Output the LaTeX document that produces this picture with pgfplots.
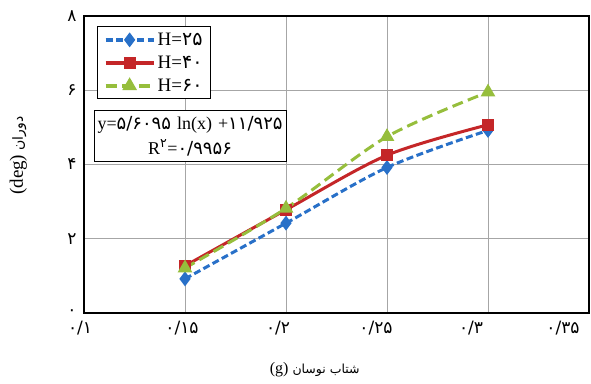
\documentclass[border=0pt]{standalone}
\usepackage{fontspec}
\setmainfont{Liberation Serif}
\newfontfamily\fa[Script=Arabic]{DejaVu Sans}
\TeXXeTstate=1
\usepackage{pgfplots}
\pgfplotsset{compat=1.18}
\definecolor{cblue}{RGB}{40,112,200}
\definecolor{cred}{RGB}{196,38,40}
\definecolor{cgreen}{RGB}{150,190,60}
\begin{document}
\begin{tikzpicture}
\useasboundingbox (-84pt,-70pt) rectangle (507pt,313pt);
\begin{axis}[
  scale only axis,
  width=505pt, height=297pt,
  at={(0pt,0pt)}, anchor=south west,
  xmin=0.1, xmax=0.35, ymin=0, ymax=8,
  xtick={0.1,0.15,0.2,0.25,0.3,0.35},
  xticklabels={{۰/۱\hspace*{8pt}},{۰/۱۵\hspace*{6pt}},{۰/۲\hspace*{16pt}},{۰/۲۵\hspace*{22pt}},{۰/۳\hspace*{34pt}},{۰/۳۵\hspace*{52pt}}},
  ytick={0,2,4,6,8},
  yticklabels={۰,۲,۴,۶,۸},
  ticklabel style={font=\fa\fontsize{17}{19}\selectfont},
  xticklabel shift=5pt,
  yticklabel shift=4pt,
  major tick length=0pt,
  grid=major,
  major grid style={draw=gray!70, line width=0.7pt},
  axis line style={line width=2.6pt, black},
  xlabel={\fa\fontsize{12.5}{15}\selectfont\beginR شتاب نوسان \beginL{\rmfamily\fontsize{16}{16}\selectfont(g)}\endL\endR},
  ylabel={\fa\fontsize{14}{16}\selectfont\beginR دوران \beginL{\rmfamily\fontsize{19}{19}\selectfont(deg)}\endL\endR},
  xlabel style={at={(axis description cs:0.457,-0.19)}, anchor=center},
  ylabel style={at={(axis description cs:-0.13,0.53)}, anchor=center},
  legend style={at={(axis description cs:0.026,0.965)}, anchor=north west,
    draw=black, line width=1pt, font=\fontsize{19}{22}\selectfont,
    row sep=5pt, inner xsep=6pt, inner ysep=4pt, cells={anchor=west}},
  legend image code/.code={\draw[#1, line width=4pt] (0pt,0pt) -- (48pt,0pt); \draw[#1,solid] plot coordinates {(24pt,0pt)};},
]
\addplot[cblue, line width=3pt, smooth, dash pattern=on 7pt off 3.5pt,
  mark=diamond*, mark size=5pt, mark options={solid, fill=cblue}]
  coordinates {(0.15,0.92) (0.2,2.42) (0.25,3.92) (0.3,4.92)};
\addlegendentry{H={\fa ۲۵}}
\addplot[cred, line width=3pt, smooth, solid,
  mark=square*, mark size=4.5pt, mark options={solid, fill=cred}]
  coordinates {(0.15,1.27) (0.2,2.78) (0.25,4.25) (0.3,5.07)};
\addlegendentry{H={\fa ۴۰}}
\addplot[cgreen, line width=3pt, smooth, dash pattern=on 11pt off 5.5pt,
  mark=triangle*, mark size=5.5pt, mark options={solid, fill=cgreen}]
  coordinates {(0.15,1.21) (0.2,2.82) (0.25,4.75) (0.3,5.95)};
\addlegendentry{H={\fa ۶۰}}
\node[draw=black, line width=0.8pt, fill=white, align=center, inner xsep=3pt, inner ysep=6pt,
  font=\fontsize{18}{25}\selectfont, text width=186pt]
  at (axis description cs:0.21,0.596)
  {y={\fa ۵/۶۰۹۵} ln(x) +{\fa ۱۱/۹۲۵}\\ R\textsuperscript{\fa ۲}={\fa ۰/۹۹۵۶}};
\end{axis}
\end{tikzpicture}
\end{document}
